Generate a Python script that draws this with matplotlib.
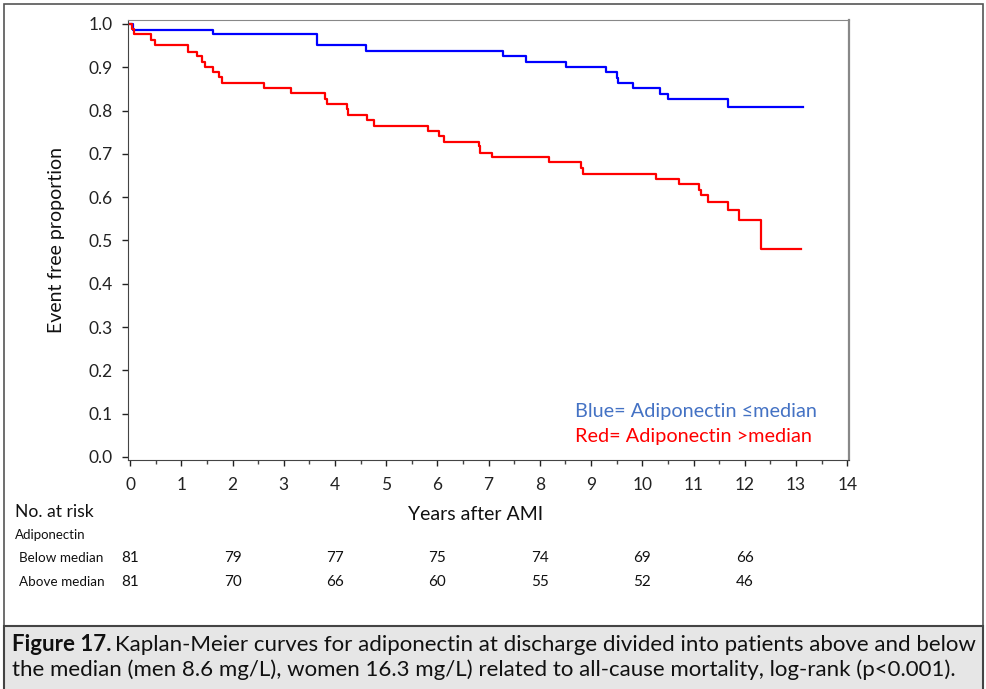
import matplotlib
matplotlib.use('Agg')
import matplotlib.pyplot as plt
from matplotlib.patches import Rectangle
from matplotlib.transforms import blended_transform_factory

plt.rcParams['font.family'] = ['Lato', 'DejaVu Sans']

# Kaplan-Meier step data (time in years, survival after each drop)
blue_t = [0, 0.06, 1.62, 3.65, 4.60, 7.28, 7.72, 8.51, 9.29, 9.50, 9.53, 9.81,
          10.35, 10.50, 11.68, 13.14]
blue_s = [1.0, 0.986, 0.976, 0.951, 0.938, 0.927, 0.913, 0.901, 0.888, 0.876,
          0.864, 0.851, 0.839, 0.827, 0.808, 0.808]

red_t = [0, 0.03, 0.07, 0.41, 0.49, 1.14, 1.30, 1.40, 1.47, 1.61, 1.74, 1.79,
         2.62, 3.15, 3.80, 3.84, 4.23, 4.26, 4.63, 4.76, 5.81, 6.04, 6.13, 6.81,
         6.83, 7.06, 8.17, 8.80, 8.85, 10.27, 10.72, 11.10, 11.14, 11.29, 11.68,
         11.88, 12.31, 13.10]
red_s = [1.0, 0.988, 0.976, 0.963, 0.951, 0.936, 0.926, 0.911, 0.901, 0.888,
         0.878, 0.864, 0.851, 0.840, 0.827, 0.815, 0.803, 0.790, 0.778, 0.765,
         0.753, 0.741, 0.728, 0.717, 0.703, 0.692, 0.680, 0.667, 0.654, 0.643,
         0.630, 0.617, 0.604, 0.589, 0.570, 0.547, 0.480, 0.480]

risk_years = [0, 2, 4, 6, 8, 10, 12]
risk_below = [81, 79, 77, 75, 74, 69, 66]
risk_above = [81, 70, 66, 60, 55, 52, 46]

W, H = 987, 689
fig = plt.figure(figsize=(W / 100, H / 100), dpi=100)

def fy(py):
    return 1 - py / H

# outer frame and caption box
fig.patches.append(Rectangle((4 / W, 0), 979 / W, 1 - 4 / H, transform=fig.transFigure,
                             fill=False, edgecolor='#555555', linewidth=1.2))
fig.patches.append(Rectangle((4 / W, -0.01), 979 / W, fy(626) + 0.01, transform=fig.transFigure,
                             facecolor='#e6e6e6', edgecolor='#444444', linewidth=1.5))

ax = fig.add_axes([128 / W, fy(460), (849 - 128) / W, (460 - 20) / H])
ax.step(blue_t, blue_s, where='post', color='#0000ff', linewidth=1.6)
ax.step(red_t, red_s, where='post', color='#ff0000', linewidth=1.6)

ax.set_xlim(-0.04, 14.035)
ax.set_ylim(-0.007, 1.009)
ax.set_xticks(range(0, 15))
ax.set_xticks([i + 0.5 for i in range(14)], minor=True)
ax.set_yticks([i / 10 for i in range(11)])
ax.set_yticklabels(['%.1f' % (i / 10) for i in range(11)])
ax.tick_params(axis='both', labelsize=12.5, colors='#222222', direction='out',
               length=4, width=1)
ax.tick_params(axis='y', pad=7)
ax.tick_params(axis='x', pad=8)
ax.tick_params(axis='x', which='minor', length=3, width=1, color='#444444')
for side in ['left', 'bottom']:
    ax.spines[side].set_color('#444444')
for side in ['top', 'right']:
    ax.spines[side].set_color('#888888')
ax.spines['right'].set_linewidth(1.6)

ax.set_ylabel('Event free proportion', fontsize=14, color='#111111', labelpad=17)

ax.text(8.69, 0.106, 'Blue= Adiponectin \u2264median', color='#4472c4',
        fontsize=14.3, va='center', ha='left')
ax.text(8.69, 0.048, 'Red= Adiponectin >median', color='#ff0000',
        fontsize=14.3, va='center', ha='left')

# number at risk table
fig.text(15 / W, fy(512), 'No. at risk', fontsize=12.6, va='center', color='#111111')
fig.text(476 / W, fy(515), 'Years after AMI', fontsize=14, va='center', ha='center',
         color='#111111')
fig.text(15 / W, fy(535), 'Adiponectin', fontsize=9.5, va='center', color='#111111')
fig.text(19 / W, fy(558), 'Below median', fontsize=9.7, va='center', color='#111111')
fig.text(19 / W, fy(582), 'Above median', fontsize=9.7, va='center', color='#111111')
tr = blended_transform_factory(ax.transData, fig.transFigure)
for yr, b, a in zip(risk_years, risk_below, risk_above):
    ax.text(yr, fy(558), str(b), transform=tr, fontsize=11, ha='center', va='center',
            color='#111111')
    ax.text(yr, fy(582), str(a), transform=tr, fontsize=11, ha='center', va='center',
            color='#111111')

# caption: bold lead-in, then normal text placed right after it
cap_fs = 16
cap1 = fig.text(12 / W, fy(651), 'Figure 17.', fontsize=cap_fs, fontweight='bold',
                va='baseline', color='#111111')
fig.canvas.draw()
bb = cap1.get_window_extent().transformed(fig.transFigure.inverted())
fig.text(bb.x1 + 4 / W, fy(651),
         'Kaplan-Meier curves for adiponectin at discharge divided into patients above and below',
         fontsize=cap_fs, va='baseline', color='#111111')
fig.text(12 / W, fy(676),
         'the median (men 8.6 mg/L), women 16.3 mg/L) related to all-cause mortality, log-rank (p<0.001).',
         fontsize=cap_fs, va='baseline', color='#111111')

fig.savefig('out.png', dpi=100)
